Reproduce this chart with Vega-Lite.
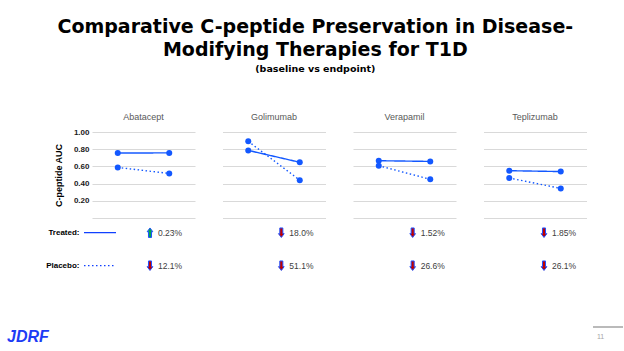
{
  "$schema": "https://vega.github.io/schema/vega-lite/v6.json",
  "padding": {"left": 7, "top": 17, "right": 0, "bottom": 0},
  "bounds": "flush",
  "spacing": 86,
  "title": {
    "text": ["Comparative C-peptide Preservation in Disease-", "Modifying Therapies for T1D"],
    "subtitle": "(baseline vs endpoint)",
    "anchor": "middle",
    "frame": "bounds",
    "font": "DejaVu Sans",
    "fontSize": 19,
    "fontWeight": "bold",
    "lineHeight": 23,
    "color": "#000000",
    "subtitleFont": "DejaVu Sans",
    "subtitleFontSize": 9.5,
    "subtitleFontWeight": "bold",
    "subtitleColor": "#000000",
    "subtitlePadding": 4,
    "offset": 40
  },
  "datasets": {
    "auc": [
      {"therapy": "Abatacept", "group": "Treated", "time": "Baseline", "auc": 0.756},
      {"therapy": "Abatacept", "group": "Treated", "time": "Endpoint", "auc": 0.757},
      {"therapy": "Abatacept", "group": "Placebo", "time": "Baseline", "auc": 0.588},
      {"therapy": "Abatacept", "group": "Placebo", "time": "Endpoint", "auc": 0.518},
      {"therapy": "Golimumab", "group": "Treated", "time": "Baseline", "auc": 0.786},
      {"therapy": "Golimumab", "group": "Treated", "time": "Endpoint", "auc": 0.648},
      {"therapy": "Golimumab", "group": "Placebo", "time": "Baseline", "auc": 0.891},
      {"therapy": "Golimumab", "group": "Placebo", "time": "Endpoint", "auc": 0.440},
      {"therapy": "Verapamil", "group": "Treated", "time": "Baseline", "auc": 0.666},
      {"therapy": "Verapamil", "group": "Treated", "time": "Endpoint", "auc": 0.658},
      {"therapy": "Verapamil", "group": "Placebo", "time": "Baseline", "auc": 0.608},
      {"therapy": "Verapamil", "group": "Placebo", "time": "Endpoint", "auc": 0.450},
      {"therapy": "Teplizumab", "group": "Treated", "time": "Baseline", "auc": 0.550},
      {"therapy": "Teplizumab", "group": "Treated", "time": "Endpoint", "auc": 0.540},
      {"therapy": "Teplizumab", "group": "Placebo", "time": "Baseline", "auc": 0.465},
      {"therapy": "Teplizumab", "group": "Placebo", "time": "Endpoint", "auc": 0.344}
    ],
    "change": [
      {"therapy": "Abatacept", "group": "Treated", "direction": "up", "label": "0.23%"},
      {"therapy": "Golimumab", "group": "Treated", "direction": "down", "label": "18.0%"},
      {"therapy": "Verapamil", "group": "Treated", "direction": "down", "label": "1.52%"},
      {"therapy": "Teplizumab", "group": "Treated", "direction": "down", "label": "1.85%"},
      {"therapy": "Abatacept", "group": "Placebo", "direction": "down", "label": "12.1%"},
      {"therapy": "Golimumab", "group": "Placebo", "direction": "down", "label": "51.1%"},
      {"therapy": "Verapamil", "group": "Placebo", "direction": "down", "label": "26.6%"},
      {"therapy": "Teplizumab", "group": "Placebo", "direction": "down", "label": "26.1%"}
    ],
    "legendline": [
      {"group": "Treated", "end": "start"},
      {"group": "Treated", "end": "stop"},
      {"group": "Placebo", "end": "start"},
      {"group": "Placebo", "end": "stop"}
    ],
    "footer": [
      {"item": "JDRF"},
      {"item": "11"}
    ]
  },
  "vconcat": [
    {
      "data": {"name": "auc"},
      "facet": {
        "column": {
          "field": "therapy",
          "type": "nominal",
          "sort": ["Abatacept", "Golimumab", "Verapamil", "Teplizumab"],
          "title": null,
          "header": {"labelFont": "Liberation Sans", "labelFontSize": 9, "labelColor": "#595959", "labelPadding": 10}
        }
      },
      "spacing": {"column": 27.5},
      "spec": {
        "width": 103,
        "height": 86,
        "encoding": {
          "x": {"field": "time", "type": "nominal", "sort": ["Baseline", "Endpoint"], "axis": null, "scale": {"type": "point", "padding": 0.5}},
          "y": {
            "field": "auc", "type": "quantitative",
            "scale": {"domain": [0, 1], "nice": false, "zero": true},
            "axis": {
              "values": [0, 0.2, 0.4, 0.6, 0.8, 1],
              "format": ".2f",
              "labelExpr": "datum.value == 0 ? '' : datum.label",
              "title": "C-peptide AUC",
              "grid": true, "gridColor": "#d9d9d9", "gridWidth": 1,
              "domain": false, "ticks": false,
              "labelFont": "Liberation Sans", "labelFontSize": 8, "labelFontWeight": "bold", "labelColor": "#1a1a1a", "labelPadding": 3,
              "titleFont": "Liberation Sans", "titleFontSize": 9, "titleFontWeight": "bold", "titleColor": "#000000", "titlePadding": 10
            }
          },
          "detail": {"field": "group", "type": "nominal"}
        },
        "layer": [
          {
            "mark": {"type": "line", "color": "#1358ff", "strokeWidth": 1.4},
            "encoding": {
              "strokeDash": {"field": "group", "type": "nominal", "scale": {"domain": ["Treated", "Placebo"], "range": [[1, 0], [1.5, 2.5]]}, "legend": null}
            }
          },
          {
            "mark": {"type": "point", "filled": true, "opacity": 1, "color": "#1358ff", "size": 36}
          }
        ]
      }
    },
    {
      "width": 460,
      "height": 23,
      "layer": [
        {
          "data": {"name": "legendline"},
          "mark": {"type": "line", "color": "#1040ff", "strokeWidth": 1.3, "clip": false},
          "encoding": {
            "x": {"field": "end", "type": "nominal", "sort": ["start", "stop"], "axis": null, "scale": {"type": "point", "padding": 0, "range": [-8, 24]}},
            "y": {
              "field": "group", "type": "nominal", "sort": ["Treated", "Placebo"],
              "scale": {"type": "point", "padding": 0, "range": [14.7, 47.7]},
              "axis": {"title": null, "domain": false, "ticks": false, "grid": false, "labelExpr": "datum.label + ':'", "labelFont": "Liberation Sans", "labelFontSize": 8, "labelFontWeight": "bold", "labelColor": "#000000", "labelPadding": 13}
            },
            "strokeDash": {"field": "group", "type": "nominal", "scale": {"domain": ["Treated", "Placebo"], "range": [[1, 0], [1.5, 1.5]]}, "legend": null}
          }
        },
        {
          "data": {"name": "change"},
          "encoding": {
            "x": {"field": "therapy", "type": "nominal", "sort": ["Abatacept", "Golimumab", "Verapamil", "Teplizumab"], "axis": null, "scale": {"type": "point", "padding": 0, "range": [58, 452]}},
            "y": {"field": "group", "type": "nominal", "sort": ["Treated", "Placebo"]}
          },
          "layer": [
            {
              "mark": {"type": "point", "filled": true, "opacity": 1, "stroke": "#1f4fff", "strokeWidth": 1, "size": 90, "clip": false},
              "encoding": {
                "shape": {"field": "direction", "type": "nominal", "scale": {"domain": ["up", "down"], "range": ["M-0.32,1 L0.32,1 L0.32,-0.2 L0.6,-0.2 L0,-1 L-0.6,-0.2 L-0.32,-0.2 Z", "M-0.32,-1 L0.32,-1 L0.32,0.2 L0.6,0.2 L0,1 L-0.6,0.2 L-0.32,0.2 Z"]}, "legend": null},
                "fill": {"field": "direction", "type": "nominal", "scale": {"domain": ["up", "down"], "range": ["#00a651", "#c00000"]}, "legend": null}
              }
            },
            {
              "mark": {"type": "text", "align": "left", "baseline": "middle", "dx": 8, "font": "Liberation Sans", "fontSize": 8.5, "color": "#404040", "clip": false},
              "encoding": {"text": {"field": "label", "type": "nominal"}}
            }
          ]
        }
      ],
      "resolve": {"scale": {"x": "independent"}, "axis": {"x": "independent"}}
    },
    {
      "width": 500,
      "height": 20,
      "data": {"name": "footer"},
      "encoding": {
        "x": {"field": "item", "type": "nominal", "sort": ["JDRF", "11"], "axis": null, "scale": {"type": "point", "padding": 0, "range": [-85, 505]}}
      },
      "layer": [
        {
          "transform": [{"filter": "datum.item == 'JDRF'"}],
          "mark": {"type": "text", "align": "left", "baseline": "middle", "font": "Liberation Sans", "fontSize": 16, "fontWeight": "bold", "fontStyle": "italic", "color": "#1d3cf5", "clip": false},
          "encoding": {"text": {"field": "item", "type": "nominal"}}
        },
        {
          "transform": [{"filter": "datum.item == '11'"}],
          "mark": {"type": "text", "align": "left", "baseline": "middle", "font": "Liberation Sans", "fontSize": 7, "color": "#a6a6a6", "clip": false},
          "encoding": {"text": {"field": "item", "type": "nominal"}}
        },
        {
          "transform": [{"filter": "datum.item == '11'"}],
          "mark": {"type": "rule", "color": "#8c8c8c", "strokeWidth": 1.2, "xOffset": -4, "x2Offset": 26, "yOffset": -10, "clip": false},
          "encoding": {"x2": {"field": "item"}}
        }
      ]
    }
  ],
  "config": {
    "view": {"stroke": null},
    "font": "Liberation Sans",
    "background": "#ffffff"
  }
}
